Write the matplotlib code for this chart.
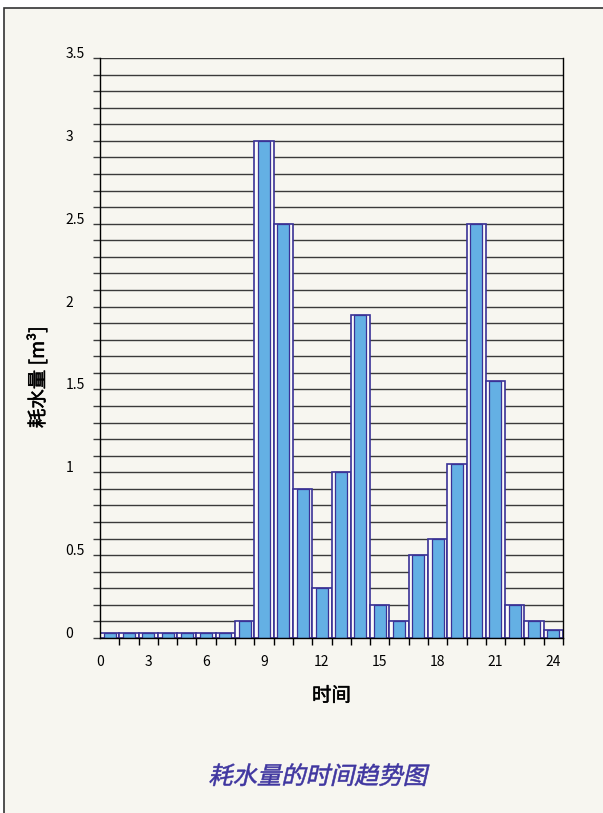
import matplotlib
matplotlib.use("Agg")
import matplotlib.pyplot as plt
import matplotlib.patheffects as pe
import numpy as np
from matplotlib.patches import Rectangle, PathPatch
from matplotlib.textpath import TextPath
from matplotlib.font_manager import FontProperties
from matplotlib.transforms import Affine2D

plt.rcParams["font.family"] = ["Noto Sans CJK SC", "DejaVu Sans"]

# hourly water consumption, one value per hour slot
hours = np.arange(24)
usage = [0.03, 0.03, 0.03, 0.03, 0.03, 0.03, 0.03, 0.1,
         3.0, 2.5, 0.9, 0.3, 1.0, 1.95, 0.2, 0.1,
         0.5, 0.6, 1.05, 2.5, 1.55, 0.2, 0.1, 0.05]

x_labels = ["0", "3", "6", "9", "12", "15", "18", "21", "24"]
y_major = [0, 0.5, 1, 1.5, 2, 2.5, 3, 3.5]
y_labels = ["0", "0.5", "1", "1.5", "2", "2.5", "3", "3.5"]

title = "耗水量的时间趋势图"
x_title = "时间"
y_title = "耗水量 [m³]"

BG = "#f7f6f0"
NAVY = "#3a3296"
BLUE = "#64b0e4"
GRID = "#3a3a3a"

W, H = 603, 813
fig = plt.figure(figsize=(W / 100, H / 100), dpi=100)
fig.patch.set_facecolor("white")

# cream panel with dark frame
fig.add_artist(Rectangle((4 / W, -0.01), 1.0, 1 - 8 / H + 0.01,
                         transform=fig.transFigure, facecolor=BG,
                         edgecolor="#333333", linewidth=1.2, zorder=-5))

ax = fig.add_axes([100 / W, 1 - 638 / H, 463 / W, 580 / H])
ax.set_zorder(2)
ax.patch.set_alpha(0)
ax.set_xlim(0, 24)
ax.set_ylim(0, 3.5)

# horizontal grid every 0.1
for v in np.arange(0, 3.51, 0.1):
    ax.axhline(v, color=GRID, linewidth=1.0, zorder=1)

# step outline boxes spanning each hour
ax.bar(hours, usage, width=1.0, align="edge", color="#fbfbf9",
       edgecolor=NAVY, linewidth=1.2, zorder=2)
# inner blue bars
ax.bar(hours + 0.5, usage, width=0.62, color=BLUE,
       edgecolor=NAVY, linewidth=0.9, zorder=3)

ax.spines["top"].set_visible(False)
for side in ["left", "bottom", "right"]:
    ax.spines[side].set_color("black")
    ax.spines[side].set_linewidth(1.0)
    ax.spines[side].set_zorder(4)

# y ticks
ax.set_yticks(y_major)
ax.set_yticklabels(y_labels)
ax.set_yticks(np.arange(0, 3.51, 0.1), minor=True)
ax.tick_params(axis="y", which="both", length=5, width=1.0, color=GRID,
               labelsize=10, pad=20)
for lab in ax.get_yticklabels():
    lab.set_horizontalalignment("left")
    lab.set_verticalalignment("baseline")

# x ticks: marks at each hour, labels under slots
label_pos = [0] + [3 * k - 0.5 for k in range(1, 9)]
ax.set_xticks(label_pos)
ax.set_xticklabels(x_labels)
ax.set_xticks(np.arange(0, 25, 1), minor=True)
ax.tick_params(axis="x", which="major", length=0, labelsize=10, pad=12)
ax.tick_params(axis="x", which="minor", length=5, width=1.0, color="black")

heavy = [pe.withStroke(linewidth=0.35, foreground="black")]
ax.set_xlabel(x_title, fontsize=14, labelpad=12, path_effects=heavy)
ax.set_ylabel(y_title, fontsize=14, va="center", path_effects=heavy)
ax.yaxis.set_label_coords(-0.133, 0.45)

# italic title at the bottom (skewed text path)
fp = FontProperties(family="Noto Sans CJK SC")
size_pt = 17.5
tp = TextPath((0, 0), title, size=size_pt, prop=fp)
ext = tp.get_extents()
cx, cy = 317, H - 784
tr = (Affine2D()
      .translate(-(ext.x0 + ext.width / 2), 0)
      .skew_deg(13, 0)
      .scale(100 / 72)
      .translate(cx, cy))
fig.add_artist(PathPatch(tr.transform_path(tp), facecolor="#3f36a0",
                         edgecolor="#3f36a0", linewidth=0.4,
                         transform=None, zorder=5))

fig.savefig("out.png", dpi=100, facecolor=fig.get_facecolor())
